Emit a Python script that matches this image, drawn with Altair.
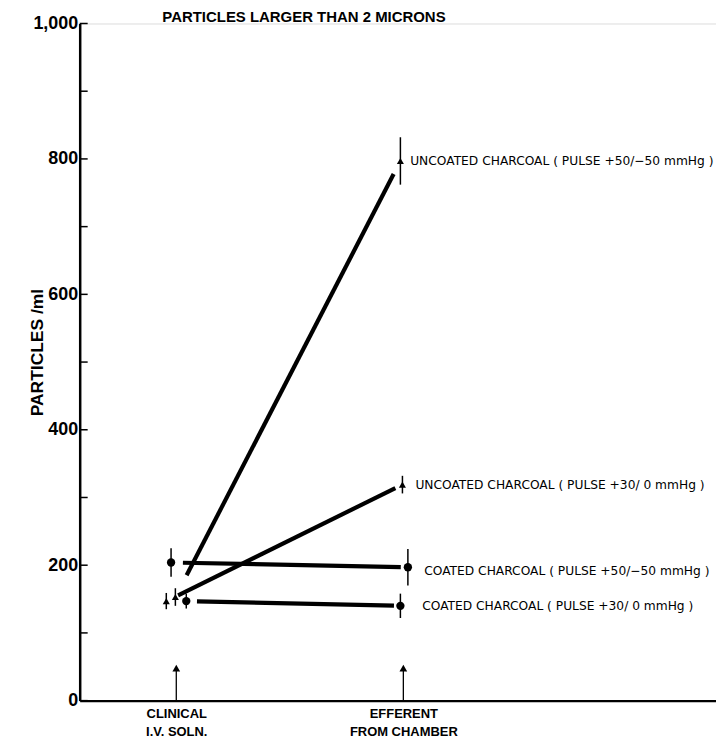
import altair as alt
import pandas as pd

# ---- data ----
title_text = "PARTICLES LARGER THAN 2 MICRONS"
series = ["uncoated_50", "uncoated_30", "coated_50", "coated_30"]
series_labels = [
    "UNCOATED  CHARCOAL ( PULSE +50/\u221250 mmHg )",
    "UNCOATED  CHARCOAL ( PULSE +30/ 0 mmHg )",
    "COATED  CHARCOAL ( PULSE +50/\u221250 mmHg )",
    "COATED  CHARCOAL ( PULSE +30/ 0 mmHg )",
]
markers = ["arrow", "arrow", "circle", "circle"]
clinical_mean = [153, 147, 204, 147]
clinical_err = [13, 12, 21, 11]
efferent_mean = [797, 319, 197, 140]
efferent_err = [35, 13, 27, 18]

site_pos = [1, 2]
site_labels = [["CLINICAL", "I.V. SOLN."], ["EFFERENT", "FROM CHAMBER"]]
y_tick_values = list(range(0, 1001, 100))
y_label_values = list(range(0, 1001, 200))

# ---- layout helpers (horizontal dodge of markers, label anchors) ----
clinical_dodge = [-0.004, -0.044, -0.023, 0.044]
efferent_dodge = [-0.013, -0.004, 0.020, -0.013]
label_dx = [0.030, 0.053, 0.092, 0.083]
label_y = [797, 319, 191, 140]
trim_start, trim_end = 0.05, 0.97
site_arrow_top = 48

# ---- tables ----
pts = []
for i, s in enumerate(series):
    pts.append(dict(series=s, marker=markers[i], x=site_pos[0] + clinical_dodge[i],
                    y=clinical_mean[i], lo=clinical_mean[i] - clinical_err[i],
                    hi=clinical_mean[i] + clinical_err[i]))
    pts.append(dict(series=s, marker=markers[i], x=site_pos[1] + efferent_dodge[i],
                    y=efferent_mean[i], lo=efferent_mean[i] - efferent_err[i],
                    hi=efferent_mean[i] + efferent_err[i]))
pts = pd.DataFrame(pts)

segs = []
for i, s in enumerate(series):
    xa, ya = site_pos[0] + clinical_dodge[i], clinical_mean[i]
    xb, yb = site_pos[1] + efferent_dodge[i], efferent_mean[i]
    segs.append(dict(series=s,
                     x0=xa + trim_start * (xb - xa), y0=ya + trim_start * (yb - ya),
                     x1=xa + trim_end * (xb - xa), y1=ya + trim_end * (yb - ya)))
segs = pd.DataFrame(segs)

labs = pd.DataFrame(dict(label=series_labels,
                         x=[site_pos[1] + d for d in label_dx], y=label_y))
sites = pd.DataFrame(dict(x=site_pos, top=[site_arrow_top] * 2, base=[0, 0]))
ticks = pd.DataFrame(dict(v=y_tick_values))

xscale = alt.Scale(domain=[0.5746, 3.377], nice=False, zero=False)
yscale = alt.Scale(domain=[0, 1000], nice=False)

label_expr = ("datum.value == 1 ? ['" + "','".join(site_labels[0]) + "'] : ['"
              + "','".join(site_labels[1]) + "']")
xaxis = alt.Axis(values=site_pos, ticks=False, grid=False, title=None,
                 domainColor="black", domainWidth=2.5,
                 labelExpr=label_expr,
                 labelFont="Liberation Sans", labelFontWeight="bold", labelFontSize=13,
                 labelColor="black", labelLineHeight=18, labelPadding=7, labelBaseline="top")
yaxis = alt.Axis(values=y_label_values, ticks=False, grid=False, format=",d",
                 domainColor="black", domainWidth=2.5,
                 labelFont="Liberation Sans", labelFontWeight="bold", labelFontSize=18,
                 labelColor="black", labelPadding=2,
                 title="PARTICLES /ml", titleFont="Liberation Sans", titleFontWeight="bold",
                 titleFontSize=17.5, titleColor="black", titleAngle=-90,
                 titleX=-42, titleY=330, titleAlign="center", titleBaseline="middle")

base_axes = alt.Chart(ticks).mark_rule(color="black", strokeWidth=1.5).encode(
    y=alt.Y("v:Q", scale=yscale, axis=yaxis),
    x=alt.value(0), x2=alt.value(8),
)
xaxis_layer = alt.Chart(sites).mark_rule(color="black", strokeWidth=1.3).encode(
    x=alt.X("x:Q", scale=xscale, axis=xaxis),
    y=alt.Y("base:Q", scale=yscale), y2="top:Q",
)
site_heads = alt.Chart(sites).mark_point(shape="triangle-up", filled=True, size=60,
                                         color="black", opacity=1).encode(
    x=alt.X("x:Q", scale=xscale), y=alt.Y("top:Q", scale=yscale))

lines = alt.Chart(segs).mark_rule(color="black", strokeWidth=4.2, strokeCap="butt").encode(
    x=alt.X("x0:Q", scale=xscale), x2="x1:Q",
    y=alt.Y("y0:Q", scale=yscale), y2="y1:Q")

errs = alt.Chart(pts).mark_rule(color="black", strokeWidth=1.5).encode(
    x=alt.X("x:Q", scale=xscale), y=alt.Y("lo:Q", scale=yscale), y2="hi:Q")

circles = alt.Chart(pts).transform_filter("datum.marker == 'circle'").mark_point(
    shape="circle", filled=True, size=70, color="black", opacity=1).encode(
    x=alt.X("x:Q", scale=xscale), y=alt.Y("y:Q", scale=yscale))

arrows = alt.Chart(pts).transform_filter("datum.marker == 'arrow'").mark_point(
    shape="triangle-up", filled=True, size=50, color="black", opacity=1).encode(
    x=alt.X("x:Q", scale=xscale), y=alt.Y("y:Q", scale=yscale))

texts = alt.Chart(labs).mark_text(align="left", baseline="middle", font="DejaVu Sans",
                                  fontSize=12.3, color="black").encode(
    x=alt.X("x:Q", scale=xscale), y=alt.Y("y:Q", scale=yscale), text="label:N")

title = alt.Chart(pd.DataFrame(dict(t=[title_text]))).mark_text(
    align="left", baseline="alphabetic", font="Liberation Sans", fontWeight="bold",
    fontSize=15, color="black").encode(
    x=alt.value(83), y=alt.value(-2), text="t:N")

chart = alt.layer(base_axes, xaxis_layer, site_heads, lines, errs, circles, arrows,
                  texts, title).properties(
    width=639, height=680,
    padding={"left": 72, "top": 14, "right": 0, "bottom": 43},
    autosize=alt.AutoSizeParams(type="none"),
).configure_view(stroke=None).configure(background="white")

chart.save("out.html", embed_options={"renderer": "svg", "actions": False})
